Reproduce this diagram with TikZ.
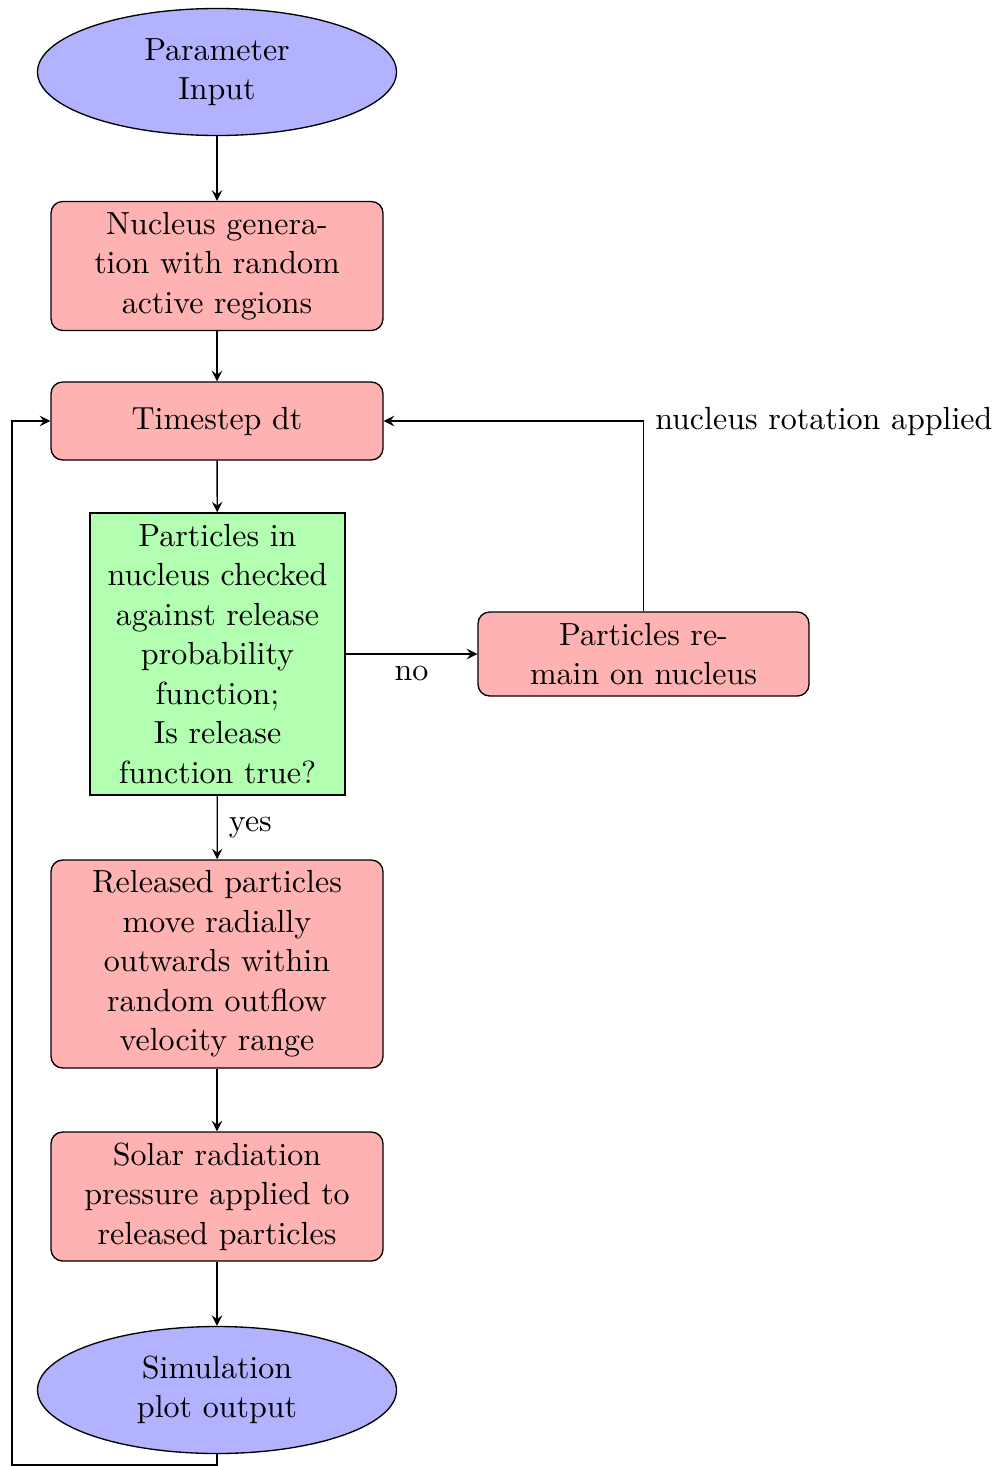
\documentclass[tikz,border=0pt]{standalone}
\usetikzlibrary{shapes.geometric,arrows}
\begin{document}
\begin{tikzpicture}[x=0.3pt,y=-0.3pt,>=stealth,
  base/.style={draw,inner sep=0pt,align=center,font=\fontsize{9.6}{11.85}\selectfont},
  term/.style={base,ellipse,fill=blue!30,minimum width=107.7pt,minimum height=38.1pt},
  proc/.style={base,rectangle,rounded corners=3.5pt,fill=red!30,minimum width=99.6pt},
  dec/.style={base,rectangle,fill=green!30,minimum width=76.5pt,minimum height=84.6pt},
  lbl/.style={font=\fontsize{9.6}{11.85}\selectfont,inner sep=3.33pt}]
\useasboundingbox (0,0) rectangle (996,1466);
\node[term] (inp) at (217,72) {Parameter\\Input};
\node[proc,minimum height=38.7pt] (nuc) at (217,266) {Nucleus genera-\\tion with random\\active regions};
\node[proc,minimum height=23.4pt] (ts) at (217,421) {Timestep dt};
\node[dec] (chk) at (217.5,654) {Particles in\\nucleus checked\\against release\\probability\\function;\\Is release\\function true?};
\node[proc,minimum width=99.3pt,minimum height=25.2pt] (rem) at (643.5,654) {Particles re-\\main on nucleus};
\node[proc,minimum height=62.4pt] (rel) at (217,964) {Released particles\\move radially\\outwards within\\random outflow\\velocity range};
\node[proc,minimum height=38.7pt] (sol) at (217,1196.5) {Solar radiation\\pressure applied to\\released particles};
\node[term] (out) at (217,1390) {Simulation\\plot output};
\coordinate (lb) at (217,1465);
\coordinate (ll) at (12,1465);
\draw[->] (inp) -- (nuc);
\draw[->] (nuc) -- (ts);
\draw[->] (ts) -- (chk);
\draw[->] (chk) -- node[lbl,below] {no} (rem);
\draw[->] (chk) -- node[lbl,right] {yes} (rel);
\draw[->] (rem) |- node[lbl,right,pos=0.5] {nucleus rotation applied} (ts);
\draw[->] (rel) -- (sol);
\draw[->] (sol) -- (out);
\draw[->] (out) -- (lb) -- (ll) |- (ts);
\end{tikzpicture}
\end{document}
